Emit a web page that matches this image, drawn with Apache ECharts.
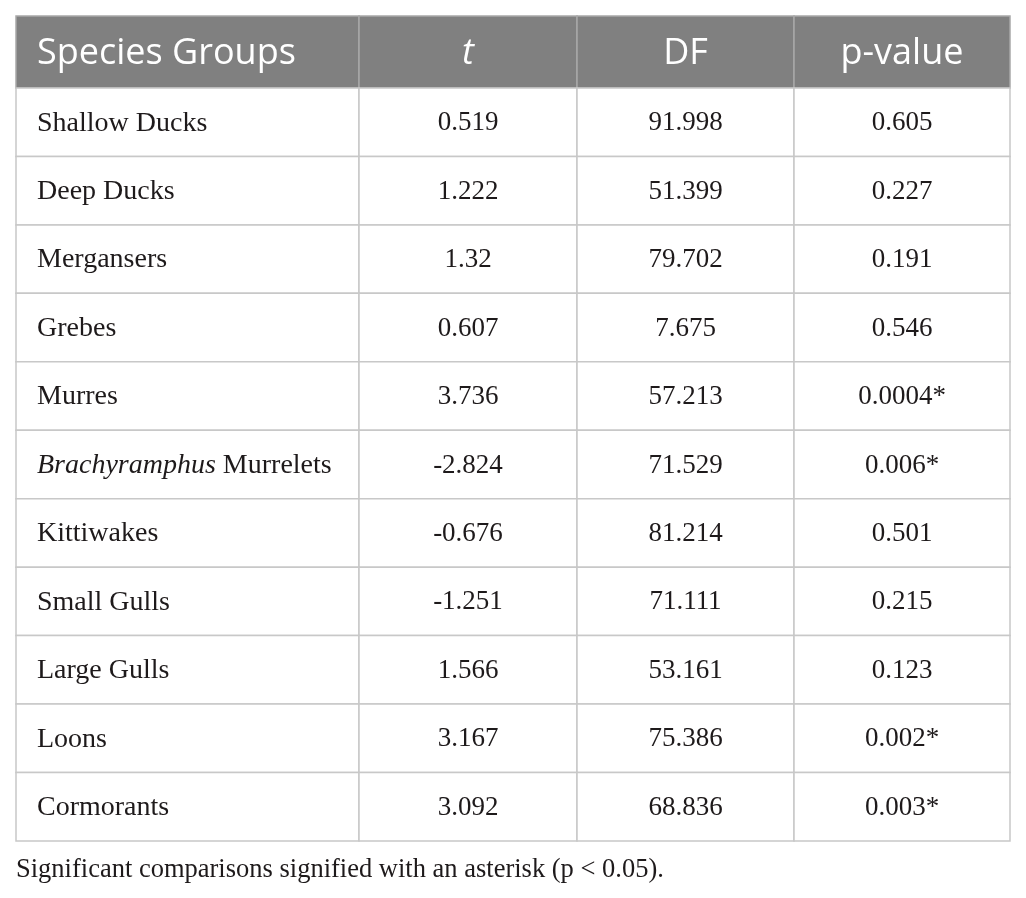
<!DOCTYPE html>
<html>
<head>
<meta charset="utf-8">
<script src="https://cdn.jsdelivr.net/npm/echarts@6/dist/echarts.min.js"></script>
<style>
html, body { margin: 0; padding: 0; background: #fff; }
#main { width: 1026px; height: 898px; }
</style>
</head>
<body>
<div id="main"></div>
<script>
// table content
var headers = ['Species Groups', 't', 'DF', 'p-value']
var species = ['Shallow Ducks', 'Deep Ducks', 'Mergansers', 'Grebes', 'Murres',
  'Brachyramphus Murrelets', 'Kittiwakes', 'Small Gulls', 'Large Gulls', 'Loons', 'Cormorants']
var tValues = [0.519, 1.222, 1.32, 0.607, 3.736, -2.824, -0.676, -1.251, 1.566, 3.167, 3.092]
var dfValues = [91.998, 51.399, 79.702, 7.675, 57.213, 71.529, 81.214, 71.111, 53.161, 75.386, 68.836]
var pValues = [0.605, 0.227, 0.191, 0.546, 0.0004, 0.006, 0.501, 0.215, 0.123, 0.002, 0.003]
var alpha = 0.05
var italicTerms = ['Brachyramphus', 't']
var caption = 'Significant comparisons signified with an asterisk (p < 0.05).'

// layout (pixel units inside the grid)
var colEdges = [0, 343, 561, 778, 994]
var headerH = 72
var rowH = 68.45
var tableH = headerH + species.length * rowH

function markItalic(s) {
  var out = s
  italicTerms.forEach(function (w) {
    if (out === w) out = '{i|' + w + '}'
    else if (out.indexOf(w + ' ') === 0) out = '{i|' + w + '}' + out.slice(w.length)
  })
  return out
}

//单元格
var cells = []
headers.forEach(function (h, c) {
  cells.push({ c: c, r: 0, text: markItalic(h) })
})
species.forEach(function (name, i) {
  var p = pValues[i]
  cells.push({ c: 0, r: i + 1, text: markItalic(name) })
  cells.push({ c: 1, r: i + 1, text: String(tValues[i]) })
  cells.push({ c: 2, r: i + 1, text: String(dfValues[i]) })
  cells.push({ c: 3, r: i + 1, text: String(p) + (p < alpha ? '*' : '') })
})

var headFont = 'Open Sans'
var bodyFont = 'Liberation Serif'

var mychart = echarts.init(document.getElementById('main'))
var option = {
  animation: false,
  title: {
    text: caption,
    left: 16,
    top: 857,
    padding: 0,
    textStyle: {
      fontFamily: bodyFont,
      fontSize: 26.5,
      fontWeight: 'normal',
      color: '#1e1a1b'
    }
  },
  grid: { left: 16, top: 16, width: 994, height: tableH },
  xAxis: { type: 'value', min: 0, max: 994, show: false },
  yAxis: { type: 'value', min: 0, max: tableH, inverse: true, show: false },
  series: [{
    type: 'custom',
    data: cells.map(function (d) { return [d.c, d.r] }),
    encode: { x: 0, y: 1 },
    renderItem: function (params, api) {
      var c = api.value(0)
      var r = api.value(1)
      var cell = cells[params.dataIndex]
      var y0 = r === 0 ? 0 : headerH + (r - 1) * rowH
      var y1 = r === 0 ? headerH : headerH + r * rowH
      var p0 = api.coord([colEdges[c], y0])
      var p1 = api.coord([colEdges[c + 1], y1])
      var isHead = r === 0
      var font = isHead ? headFont : bodyFont
      var size = isHead ? 36 : (c === 0 ? 28 : 27)
      var color = isHead ? '#ffffff' : '#1e1a1b'
      return {
        type: 'group',
        children: [{
          type: 'rect',
          shape: { x: p0[0], y: p0[1], width: p1[0] - p0[0], height: p1[1] - p0[1] },
          style: {
            fill: isHead ? '#808080' : '#ffffff',
            stroke: isHead ? '#a8a8a8' : '#c8c8c8',
            lineWidth: 1.5
          }
        }, {
          type: 'text',
          z2: 10,
          style: {
            text: cell.text,
            x: c === 0 ? p0[0] + 21 : (p0[0] + p1[0]) / 2,
            y: (p0[1] + p1[1]) / 2 + (isHead ? 2 : 1),
            align: c === 0 ? 'left' : 'center',
            verticalAlign: 'middle',
            fontFamily: font,
            fontSize: size,
            fill: color,
            rich: {
              i: { fontFamily: font, fontSize: size, fontStyle: 'italic', fill: color }
            }
          }
        }]
      }
    }
  }]
}
mychart.setOption(option)
</script>
</body>
</html>
